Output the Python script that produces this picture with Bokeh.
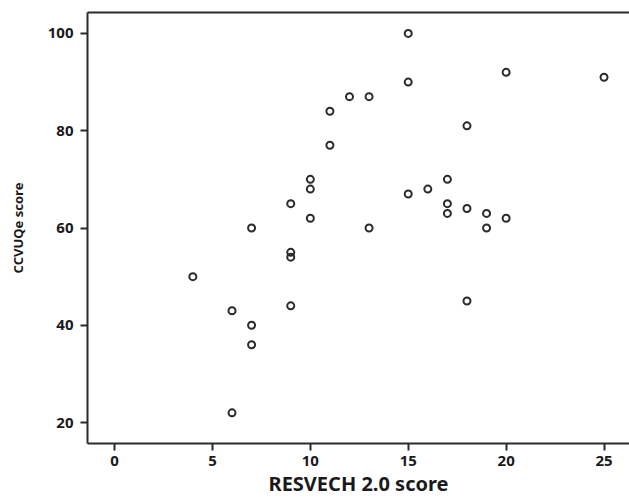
from bokeh.plotting import figure
from bokeh.models import LinearAxis, FixedTicker, Range1d
from bokeh.embed import file_html
from bokeh.resources import INLINE

resvech = [4, 6, 6, 7, 7, 7, 9, 9, 9, 9, 10, 10, 10, 11, 11, 12, 13, 13,
           15, 15, 15, 16, 17, 17, 17, 18, 18, 18, 19, 19, 20, 20, 25]
ccvuqe = [50, 43, 22, 60, 40, 36, 65, 55, 54, 44, 70, 68, 62, 84, 77, 87, 87, 60,
          100, 90, 67, 68, 70, 65, 63, 81, 64, 45, 63, 60, 92, 62, 91]
x_ticks = [0, 5, 10, 15, 20, 25]
y_ticks = [20, 40, 60, 80, 100]

FONT = "Noto Sans"
DARK = "#2b2b2b"

p = figure(width=629, height=504, output_backend="svg", toolbar_location=None,
           x_range=Range1d(-1.38, 26.3), y_range=Range1d(15.7, 104.3),
           min_border_left=87, min_border_right=0, min_border_top=12,
           min_border_bottom=61, x_axis_label="RESVECH 2.0 score",
           y_axis_label="CCVUQe score")
p.outline_line_color = None
p.grid.visible = False
p.background_fill_color = "white"
p.border_fill_color = "white"

for ax in p.xaxis + p.yaxis:
    ax.axis_line_color = DARK
    ax.axis_line_width = 2
    ax.major_tick_line_color = DARK
    ax.major_tick_line_width = 2
    ax.major_tick_out = 7
    ax.major_tick_in = 0
    ax.minor_tick_line_color = None
    ax.major_label_text_font = FONT
    ax.major_label_text_font_style = "bold"
    ax.major_label_text_color = "#1a1a1a"
    ax.major_label_text_font_size = "15px"
    ax.axis_label_text_font = FONT
    ax.axis_label_text_font_style = "bold"
    ax.axis_label_text_color = "#1a1a1a"

p.xaxis.ticker = FixedTicker(ticks=x_ticks)
p.yaxis.ticker = FixedTicker(ticks=y_ticks)
p.xaxis.axis_label_text_font_size = "20px"
p.yaxis.axis_label_text_font_size = "13px"
p.xaxis.major_label_standoff = 5
p.yaxis.major_label_standoff = 7
p.xaxis.axis_label_standoff = 1
p.yaxis.axis_label_standoff = 18

top = LinearAxis(ticker=FixedTicker(ticks=[]), axis_line_color=DARK, axis_line_width=2,
                 major_tick_line_color=None, minor_tick_line_color=None,
                 major_label_text_font_size="0px")
p.add_layout(top, "above")

p.scatter(resvech, ccvuqe, size=7, marker="circle", fill_color=None,
          line_color=DARK, line_width=2)

open("out.html", "w").write(file_html(p, INLINE))
